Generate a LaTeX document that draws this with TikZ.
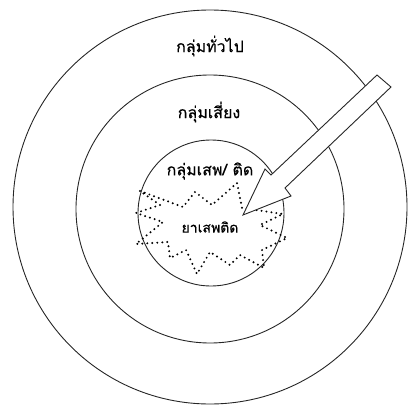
\documentclass[tikz,border=0pt]{standalone}
\usepackage{fontspec}
\newfontfamily\thaifont[Script=Thai, FakeBold=0.4]{Loma}
\begin{document}
\begin{tikzpicture}[x=1pt,y=-1pt,
  ring/.style={draw=black!85, line width=0.9pt},
  lbl/.style={font=\thaifont\fontsize{16}{18}\selectfont, inner sep=0pt},
  small/.style={font=\thaifont\fontsize{14}{16}\selectfont, inner sep=0pt},
  burst/.style={draw=black, line width=2.2pt, line cap=round, dash pattern=on 0pt off 5pt},
  bigarrow/.style={draw=black!85, fill=white, line width=0.9pt, line join=miter}]
\useasboundingbox (0,0) rectangle (411,406);
\node[ring, circle, minimum size=394pt, inner sep=0pt] (outer) at (210,207) {};
\node[ring, circle, minimum size=268pt, inner sep=0pt] (middle) at (210,209) {};
\node[ring, circle, minimum size=146pt, inner sep=0pt] (inner) at (211,213) {};
\draw[burst] (140,191) -- (183,207) -- (195,192) -- (212,205) -- (237,183) -- (242,208)
  -- (283,214) -- (260,225) -- (287,238) -- (262,250) -- (264,268) -- (240,255)
  -- (230,265) -- (210,252) -- (197,274) -- (186,250) -- (170,258) -- (168,242)
  -- (136,244) -- (163,222) -- (136,213) -- (160,205) -- cycle;
\node[lbl] (general) at (210,46) {กลุ่มทั่วไป};
\node[lbl] (risk) at (209,112) {กลุ่มเสี่ยง};
\node[lbl] (addict) at (210,171) {กลุ่มเสพ/ ติด};
\node[small] (drug) at (210,227) {ยาเสพติด};
\draw[bigarrow] (377,75) -- (391,87) -- (285,188) -- (291,196) -- (243,215)
  -- (265,169) -- (271,175) -- cycle;
\end{tikzpicture}
\end{document}
